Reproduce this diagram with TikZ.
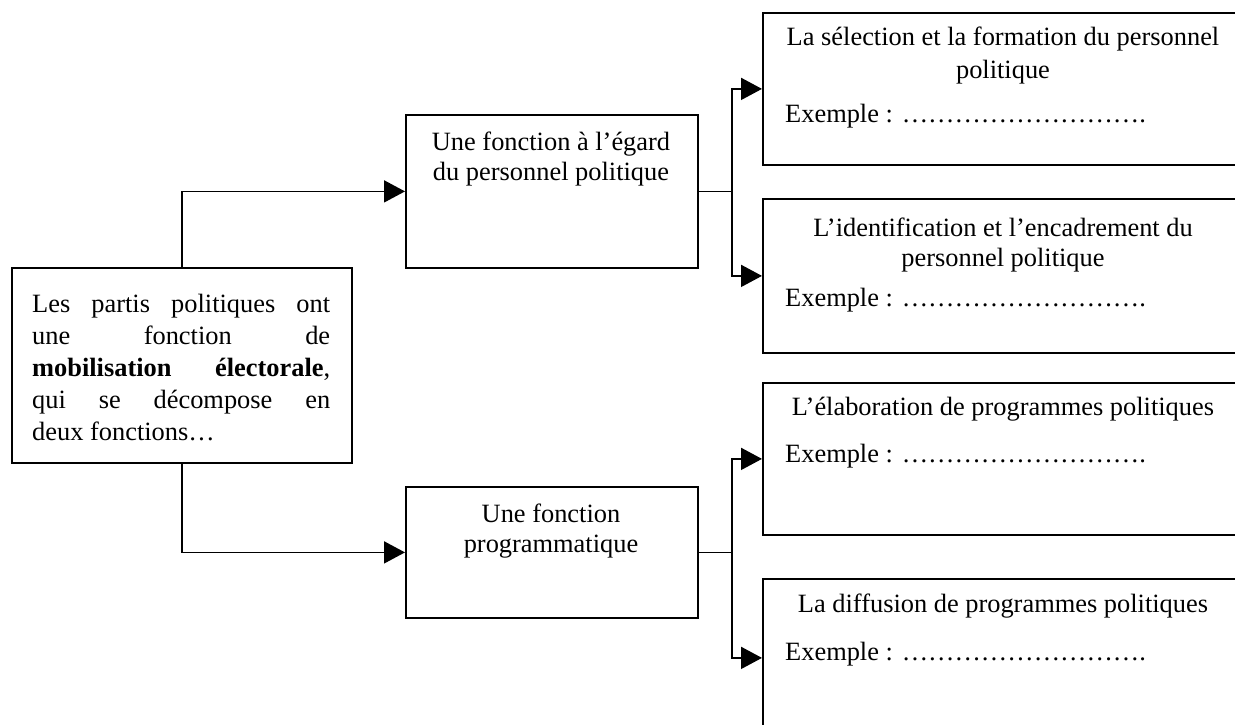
\documentclass[tikz,border=0pt]{standalone}
\usepackage{fontspec}
\setmainfont{Liberation Serif}
\usetikzlibrary{arrows.meta}
\begin{document}
\begin{tikzpicture}[x=1pt,y=-1pt,
  box/.style={draw,line width=1.8pt,rectangle,inner sep=0pt,anchor=north west},
  conn/.style={line width=1.8pt},
  arr/.style={line width=1.8pt,-{Triangle[length=21pt,width=22pt]}},
  txt/.style={inner sep=0pt,anchor=base,font=\fontsize{26.4}{30}\selectfont},
  ltxt/.style={txt,anchor=base west},
  ]
\useasboundingbox (0,0) rectangle (1235,725);
\clip (0,0) rectangle (1235,725);
\fill[white] (0,0) rectangle (1235,725);

% boxes
\node[box,minimum width=340pt,minimum height=195pt] (root) at (11,267) {};
\node[box,minimum width=292pt,minimum height=153pt] (pers) at (405,114) {};
\node[box,minimum width=292pt,minimum height=131pt] (prog) at (405,486) {};
\node[box,minimum width=520pt,minimum height=152pt] (selec) at (762,12) {};
\node[box,minimum width=520pt,minimum height=154pt] (ident) at (762,198) {};
\node[box,minimum width=520pt,minimum height=152pt] (elab) at (762,382) {};
\node[box,minimum width=520pt,minimum height=158pt] (diff) at (762,578) {};

% root text
\node[ltxt] (r1) at (32,312) {\makebox[298pt][s]{Les partis politiques ont}};
\node[ltxt] (r2) at (32,344) {\makebox[298pt][s]{une fonction de}};
\node[ltxt] (r3) at (32,376) {\makebox[298pt][s]{\textbf{mobilisation électorale},}};
\node[ltxt] (r4) at (32,408) {\makebox[298pt][s]{qui se décompose en}};
\node[ltxt] (r5) at (32,440) {deux fonctions…};

% middle texts
\node[txt] (p1) at (551,150) {Une fonction à l’égard};
\node[txt] (p2) at (551,180) {du personnel politique};
\node[txt] (g1) at (551,522) {Une fonction};
\node[txt] (g2) at (551,552) {programmatique};

% right texts
\node[txt] (s1) at (1003,46) {La sélection et la formation du personnel};
\node[txt] (s2) at (1003,79) {politique};
\node[ltxt] (s3) at (785,122) {Exemple : ……………………….};
\node[txt] (i1) at (1003,236) {L’identification et l’encadrement du};
\node[txt] (i2) at (1003,266) {personnel politique};
\node[ltxt] (i3) at (785,306) {Exemple : ……………………….};
\node[txt] (e1) at (1003,415) {L’élaboration de programmes politiques};
\node[ltxt] (e3) at (785,462) {Exemple : ……………………….};
\node[txt] (d1) at (1003,612) {La diffusion de programmes politiques};
\node[ltxt] (d3) at (785,660) {Exemple : ……………………….};

% connectors
\draw[arr] (root.north) |- (pers.west);
\draw[arr] (root.south) |- (prog.west);
\draw[conn] (pers.east) -- ++(33,0) coordinate (f1);
\draw[arr] (f1) |- (selec.west);
\draw[arr] (f1) |- (ident.west);
\draw[conn] (prog.east) -- ++(33,0) coordinate (f2);
\draw[arr] (f2) |- (elab.west);
\draw[arr] (f2) |- (diff.west);
\end{tikzpicture}
\end{document}
